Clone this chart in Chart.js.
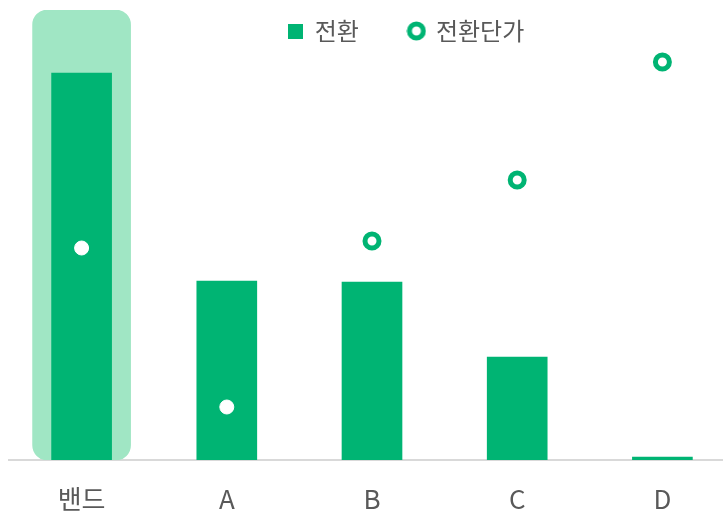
<!DOCTYPE html>
<html>
<head>
<meta charset="utf-8">
<script src="https://cdn.jsdelivr.net/npm/chart.js@4"></script>
<style>
  html, body { margin: 0; padding: 0; overflow: hidden; background: #fff; }
  canvas { display: block; }
</style>
</head>
<body>
<canvas id="conv-chart" width="737" height="516"></canvas>
<script>
const categories = ['밴드', 'A', 'B', 'C', 'D'];
const conversions = [387, 179, 178, 103, 3];       // 전환
const costPerConv = [212, 53, 219, 280, 398];      // 전환단가
const highlightValues = [450, null, null, null, null];
const axisMax = 450;

const green = '#00b473';
const lightGreen = '#a0e6c4';
const textGray = '#595959';
const fontFamily = '"Noto Sans CJK KR", "Malgun Gothic", sans-serif';

// legend icons
function makeIcon(size, draw) {
    const c = document.createElement('canvas');
    c.width = size; c.height = size;
    draw(c.getContext('2d'));
    return c;
}
const squareIcon = makeIcon(15, g => { g.fillStyle = green; g.fillRect(0, 0, 15, 15); });
const ringIcon = makeIcon(20, g => {
    g.beginPath();
    g.arc(10, 10, 7, 0, Math.PI * 2);
    g.fillStyle = '#fff';
    g.fill();
    g.lineWidth = 5;
    g.strokeStyle = green;
    g.stroke();
});

// legend floats over the plot (takes no height) and sits a bit right, like the original
const legendShift = {
    id: 'legendShift',
    beforeLayout(chart) {
        const lg = chart.legend;
        if (lg && !lg._noHeight) {
            const fit = lg.fit;
            lg.fit = function () { fit.call(this); this.height = 0; };
            lg._noHeight = true;
        }
    },
    afterLayout(chart) {
        const lg = chart.legend;
        lg.left += 34;
        lg.right += 34;
        lg.top -= 41;
        lg.height = 100;
        lg.bottom = lg.top + 100;
    }
};

const ctx = document.getElementById('conv-chart');

new Chart(ctx, {
    type: 'bar',
    data: {
        labels: categories,
        datasets: [
            {
                type: 'line',
                label: '전환단가',
                data: costPerConv,
                yAxisID: 'y1',
                showLine: false,
                pointRadius: 7,
                pointHoverRadius: 7,
                pointBackgroundColor: '#fff',
                pointBorderColor: ['#fff', '#fff', green, green, green],
                pointBorderWidth: [1, 1, 5, 5, 5],
                order: 1,
                clip: false
            },
            {
                label: '전환',
                data: conversions,
                yAxisID: 'y',
                backgroundColor: green,
                barThickness: 60,
                order: 2
            },
            {
                label: 'highlight',
                data: highlightValues,
                yAxisID: 'y',
                backgroundColor: lightGreen,
                barThickness: 98,
                grouped: false,
                borderRadius: 15,
                borderSkipped: false,
                order: 3
            }
        ]
    },
    options: {
        responsive: false,
        animation: false,
        devicePixelRatio: 1,
        layout: { autoPadding: false, padding: { top: 10, left: 9, right: 2, bottom: 1 } },
        plugins: {
            tooltip: { enabled: false },
            legend: {
                position: 'top',
                align: 'center',
                labels: {
                    usePointStyle: true,
                    boxWidth: 15,
                    padding: 50,
                    color: textGray,
                    font: { family: fontFamily, size: 24 },
                    generateLabels: () => [
                        { text: '전환', pointStyle: squareIcon, fillStyle: green, strokeStyle: green, lineWidth: 0, fontColor: textGray, hidden: false, datasetIndex: 1 },
                        { text: '전환단가', pointStyle: ringIcon, fillStyle: '#fff', strokeStyle: green, lineWidth: 0, fontColor: textGray, hidden: false, datasetIndex: 0 }
                    ]
                }
            }
        },
        scales: {
            x: {
                grid: { display: true, drawOnChartArea: false, drawTicks: false },
                border: { display: true, color: '#d9d9d9', width: 2 },
                ticks: {
                    color: textGray,
                    padding: 24,
                    font: { family: fontFamily, size: 26 }
                },
                afterFit(scale) { scale.height = 55; }
            },
            y: {
                display: false,
                min: 0,
                max: axisMax
            },
            y1: {
                display: false,
                position: 'right',
                min: 0,
                max: axisMax
            }
        }
    },
    plugins: [legendShift]
});
</script>
</body>
</html>
